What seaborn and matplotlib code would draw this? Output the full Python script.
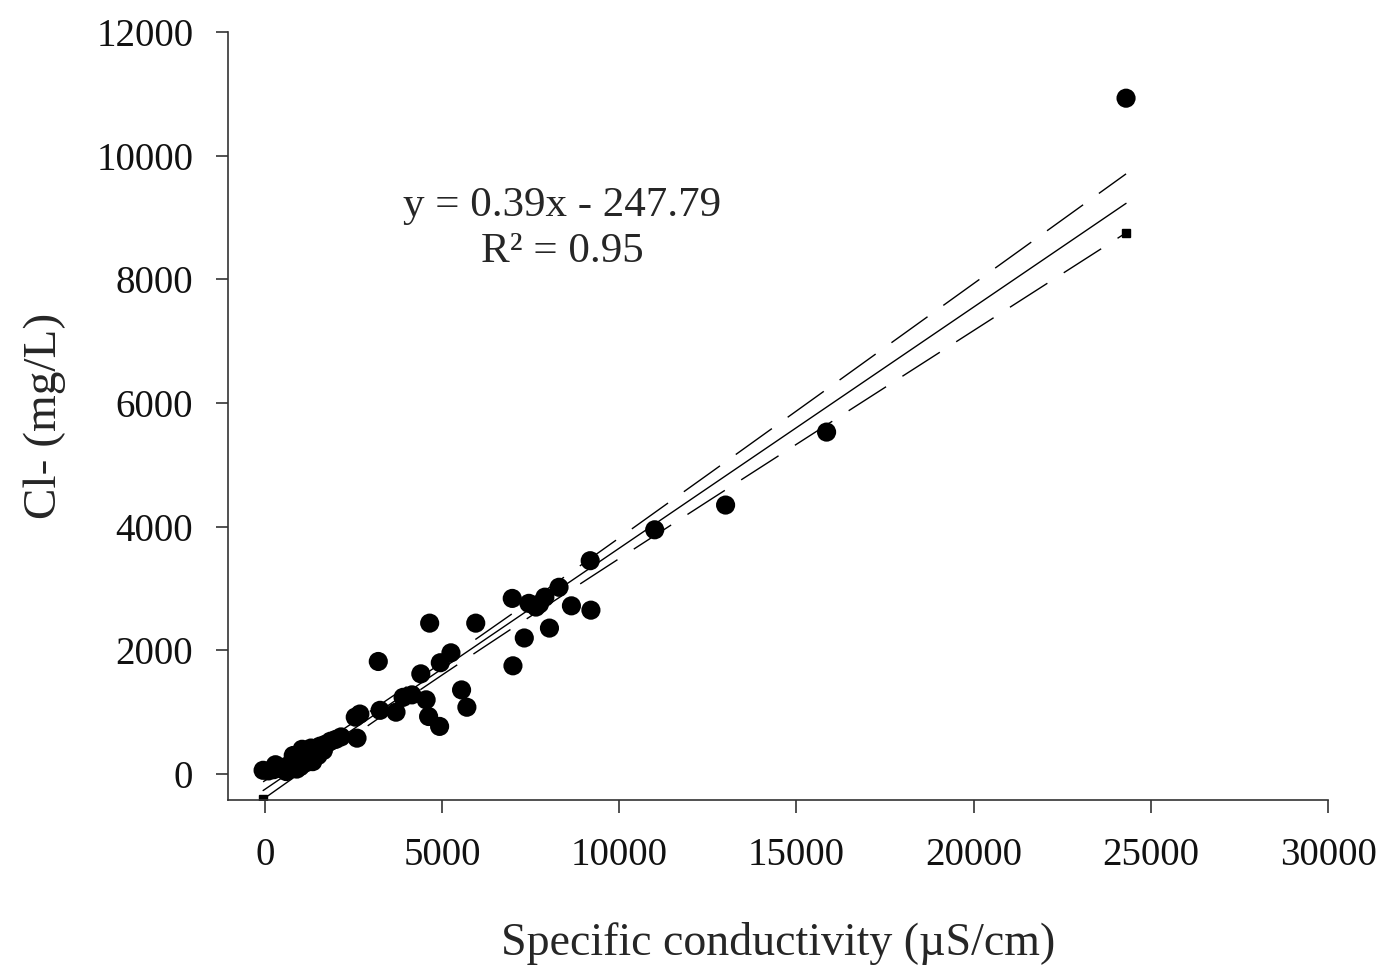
import numpy as np
import pandas as pd
import matplotlib
matplotlib.use("Agg")
import matplotlib.pyplot as plt
import seaborn as sns

# ---- data ----
conductivity = [-50, 100, 250, 300, 400, 550, 600, 700, 800, 850, 900, 950, 1000,
                1050, 1100, 1150, 1200, 1250, 1300, 1350, 1400, 1450, 1500, 1550,
                1650, 1700, 1850, 2000, 2150,
                2550, 2600, 2680, 3200, 3250, 3700, 3900, 4150, 4400, 4550, 4620,
                4650, 4930, 4950, 5250, 5550, 5700, 5950, 6980, 7000, 7320, 7450,
                7650, 7750, 7900, 8030, 8300, 8650, 9200, 9180, 11000, 13000,
                15850, 24300]
chloride = [60, 50, 70, 150, 90, 110, 40, 150, 300, 200, 80, 260, 120,
            400, 300, 180, 350, 250, 420, 200, 330, 400, 300, 450,
            380, 480, 530, 560, 600,
            920, 580, 970, 1820, 1030, 1000, 1240, 1280, 1620, 1200, 930,
            2440, 770, 1800, 1960, 1360, 1080, 2440, 2840, 1750, 2200, 2760,
            2700, 2750, 2860, 2360, 3020, 2720, 2650, 3450, 3950, 4350,
            5530, 10930]
slope = 0.39
intercept = -247.79
r_squared = 0.95
x_ticks = [0, 5000, 10000, 15000, 20000, 25000, 30000]
y_ticks = [0, 2000, 4000, 6000, 8000, 10000, 12000]

df = pd.DataFrame({"x": conductivity, "y": chloride})

# regression line from the stated equation, 95% confidence band from the data
x = np.array(conductivity, dtype=float)
y = np.array(chloride, dtype=float)
n = len(x)
xs = np.linspace(x.min(), x.max(), 200)
fit = slope * xs + intercept
resid = y - (slope * x + intercept)
s = np.sqrt(np.sum(resid ** 2) / (n - 2))
sxx = np.sum((x - x.mean()) ** 2)
half = 1.96 * s * np.sqrt(1.0 / n + (xs - x.mean()) ** 2 / sxx)
lines = pd.DataFrame({"x": xs, "fit": fit, "lo": fit - half, "hi": fit + half})

sns.set_style("ticks")
plt.rcParams["font.family"] = ["Liberation Serif", "DejaVu Serif"]

fig = plt.figure(figsize=(13.87, 9.65), dpi=100)
ax = fig.add_axes([0.1644, 0.171, 0.7931, 0.7958])

sns.scatterplot(data=df, x="x", y="y", ax=ax, color="black", s=190,
                edgecolor="none", zorder=3)
sns.lineplot(data=lines, x="x", y="fit", ax=ax, color="black", lw=1.0,
             sort=False, estimator=None)
sns.lineplot(data=lines, x="x", y="hi", ax=ax, color="black", lw=1.0,
             sort=False, estimator=None)
sns.lineplot(data=lines, x="x", y="lo", ax=ax, color="black", lw=1.0,
             sort=False, estimator=None)
ax.lines[1].set_linestyle((0, (32, 14)))
ax.lines[2].set_linestyle((0, (32, 14)))
ax.plot(lines["x"].iloc[[0, -1]], lines["lo"].iloc[[0, -1]], ls="none",
        marker="s", ms=6, color="black")

ax.set_xlim(-1040, 30000)
ax.set_ylim(-420, 12000)
ax.set_xticks(x_ticks)
ax.set_yticks(y_ticks)
ax.tick_params(axis="both", direction="out", length=9, width=1.2,
               labelsize=28, colors="#333333", labelcolor="#111111")
ax.tick_params(axis="x", pad=18)
ax.tick_params(axis="y", pad=16)
for side in ["top", "right"]:
    ax.spines[side].set_visible(False)
for side in ["left", "bottom"]:
    ax.spines[side].set_color("#333333")
    ax.spines[side].set_linewidth(1.2)

ax.set_xlabel("Specific conductivity (µS/cm)", fontsize=33, labelpad=34)
ax.set_ylabel("Cl- (mg/L)", fontsize=34, labelpad=22)

ax.text(8395, 8820, f"y = {slope}x - {abs(intercept)}\nR² = {r_squared}",
        ha="center", va="center", fontsize=31, linespacing=1.25)

fig.savefig("out.png", dpi=100)
